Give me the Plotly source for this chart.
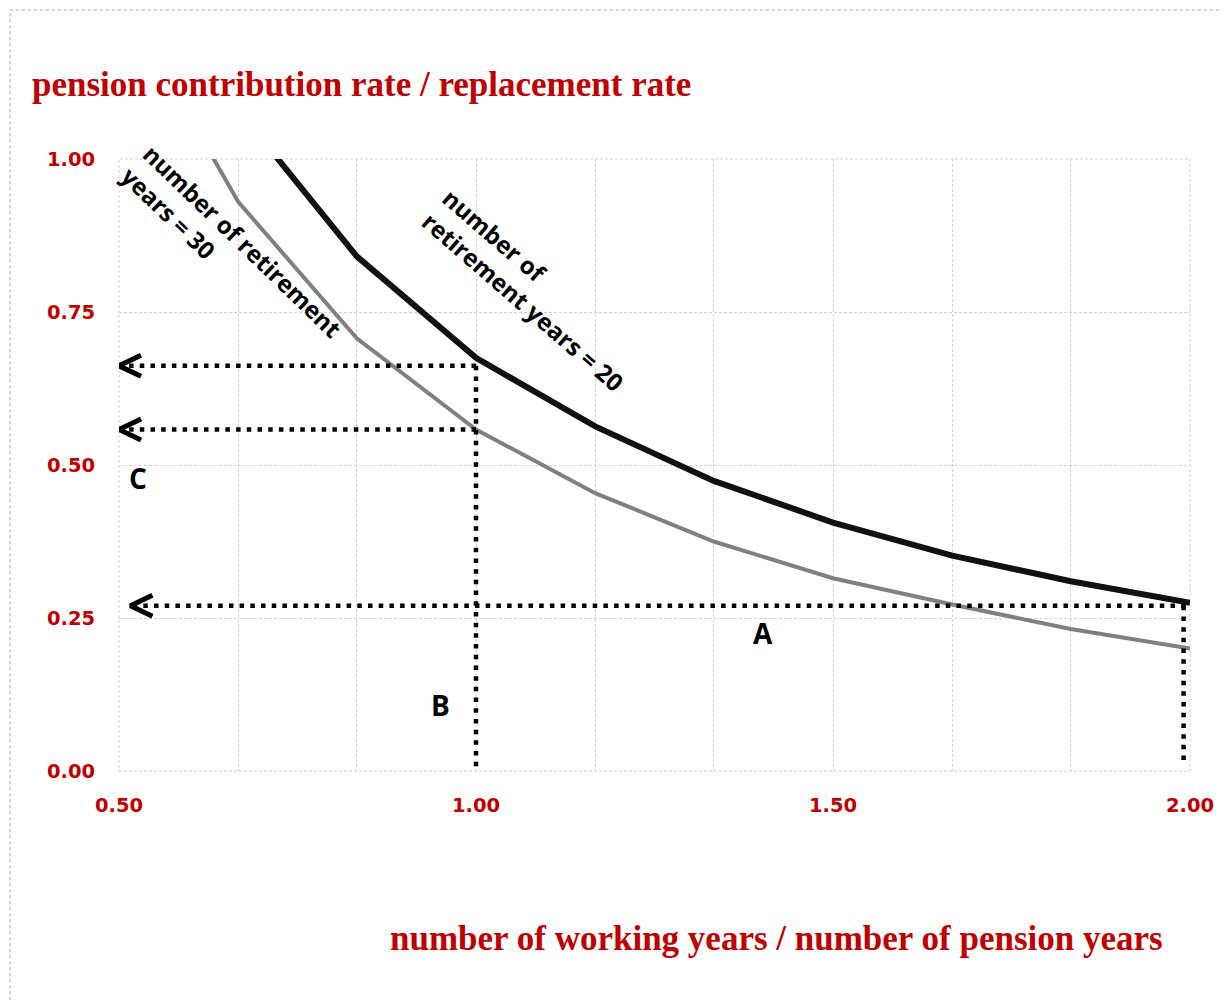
import plotly.graph_objects as go

# ---- data ----
ratio = [0.5, 0.667, 0.833, 1.0, 1.167, 1.333, 1.5, 1.667, 1.833, 2.0]
rate_20 = [None, 1.08, 0.841, 0.675, 0.563, 0.474, 0.406, 0.352, 0.31, 0.275]
rate_30 = [1.27, 0.93, 0.707, 0.558, 0.454, 0.375, 0.315, 0.272, 0.232, 0.2]
tick_text = ["0.50", "", "", "1.00", "", "", "1.50", "", "", "2.00"]
y_ticks = [0, 0.25, 0.5, 0.75, 1.0]

# reading guides (dotted): start x, end x (arrow tip), y
guide_y = [0.662, 0.558, 0.270]
guide_x_from = [1.0, 1.0, 1.994]
guide_x_tip = [0.5, 0.5, 0.516]
# vertical drops
drop_x = [1.0, 1.991]
drop_y_top = [0.662, 0.270]
drop_y_bottom = [-0.004, 0.016]

letters = ["A", "B", "C"]
letter_x = [1.402, 0.95, 0.527]
letter_y = [0.225, 0.108, 0.479]

RED = "#C00000"

# page body offset (browser default margin) compensated
OFF = 8
W, H = 1229 - OFF, 1000 - OFF
L, T = 119 - OFF, 159 - OFF
R = W - (1190 - OFF)
B = H - (771 - OFF)
pw, ph = W - L - R, H - T - B
xr = [0.5, 2.0]
yr = [0.0, 1.0]
px_x = pw / (xr[1] - xr[0])
px_y = ph / (yr[1] - yr[0])


def paper_x(px):
    return (px - OFF - L) / pw


def paper_y(py):
    return (H - B - (py - OFF)) / ph


fig = go.Figure()

fig.add_trace(go.Scatter(x=ratio, y=rate_30, mode="lines",
                         line=dict(color="#808080", width=4), showlegend=False))
fig.add_trace(go.Scatter(x=ratio, y=rate_20, mode="lines",
                         line=dict(color="#111111", width=6), showlegend=False))

dot = dict(color="black", width=4.5, dash="4.5px,6.2px")
for xf, xt, yv in zip(guide_x_from, guide_x_tip, guide_y):
    fig.add_trace(go.Scatter(x=[xf, xt], y=[yv, yv], mode="lines", line=dot,
                             showlegend=False, cliponaxis=False))
    # open chevron arrow head
    dx = 22 / px_x
    dy = 10.5 / px_y
    fig.add_trace(go.Scatter(x=[xt + dx, xt, xt + dx], y=[yv + dy, yv, yv - dy],
                             mode="lines", line=dict(color="black", width=5),
                             showlegend=False, cliponaxis=False))
for xv, yt, yb in zip(drop_x, drop_y_top, drop_y_bottom):
    fig.add_trace(go.Scatter(x=[xv, xv], y=[yt, yb], mode="lines", line=dot,
                             showlegend=False, cliponaxis=False))

ann = []
for t, xv, yv in zip(letters, letter_x, letter_y):
    ann.append(dict(x=xv, y=yv, text="<b>%s</b>" % t, showarrow=False,
                    font=dict(family="Open Sans", size=28, color="black")))

ann.append(dict(x=1.081, y=0.786, text="<b>number of<br>retirement years = 20</b>",
                showarrow=False, textangle=41, align="left",
                font=dict(family="Open Sans", size=24, color="black")))
ann.append(dict(x=0.658, y=0.848, text="<b>number of retirement<br>years = 30</b>",
                showarrow=False, textangle=44, align="left",
                font=dict(family="Open Sans", size=24, color="black")))

# chart title and axis title
ann.append(dict(xref="paper", yref="paper", x=paper_x(30), y=paper_y(85),
                xanchor="left", yanchor="middle", showarrow=False,
                text="<b>pension contribution rate / replacement rate</b>",
                font=dict(family="Liberation Serif", size=35, color=RED)))
ann.append(dict(xref="paper", yref="paper", x=paper_x(776), y=paper_y(938),
                xanchor="center", yanchor="middle", showarrow=False,
                text="<b>number of working years / number of pension years</b>",
                font=dict(family="Liberation Serif", size=35, color=RED)))

grid_col = "#D4D4D4"
fig.update_layout(
    width=W, height=H,
    margin=dict(l=L, r=R, t=T, b=B),
    plot_bgcolor="white", paper_bgcolor="white",
    annotations=ann,
    shapes=[
        dict(type="rect", xref="paper", yref="paper",
             x0=paper_x(10), x1=1.3, y0=-0.6, y1=paper_y(10),
             line=dict(color="#A8AD92", width=1, dash="dot"), layer="below"),
        dict(type="rect", xref="paper", yref="paper", x0=0, x1=1, y0=0, y1=1,
             line=dict(color=grid_col, width=1, dash="3px,2px"), layer="below"),
    ],
)
fig.update_xaxes(range=xr, tickvals=ratio, ticktext=tick_text,
                 showgrid=True, gridcolor=grid_col, griddash="3px,2px", gridwidth=1,
                 zeroline=False, showline=False,
                 ticks="outside", ticklen=17, tickcolor="rgba(0,0,0,0)",
                 tickfont=dict(family="DejaVu Sans", size=19.5, color=RED, weight="bold"))
fig.update_yaxes(range=yr, tickvals=y_ticks, tickformat=".2f",
                 showgrid=True, gridcolor=grid_col, griddash="3px,2px", gridwidth=1,
                 zeroline=False, showline=False,
                 ticks="outside", ticklen=19, tickcolor="rgba(0,0,0,0)",
                 tickfont=dict(family="DejaVu Sans", size=19.5, color=RED, weight="bold"))

fig.write_html("out.html")
